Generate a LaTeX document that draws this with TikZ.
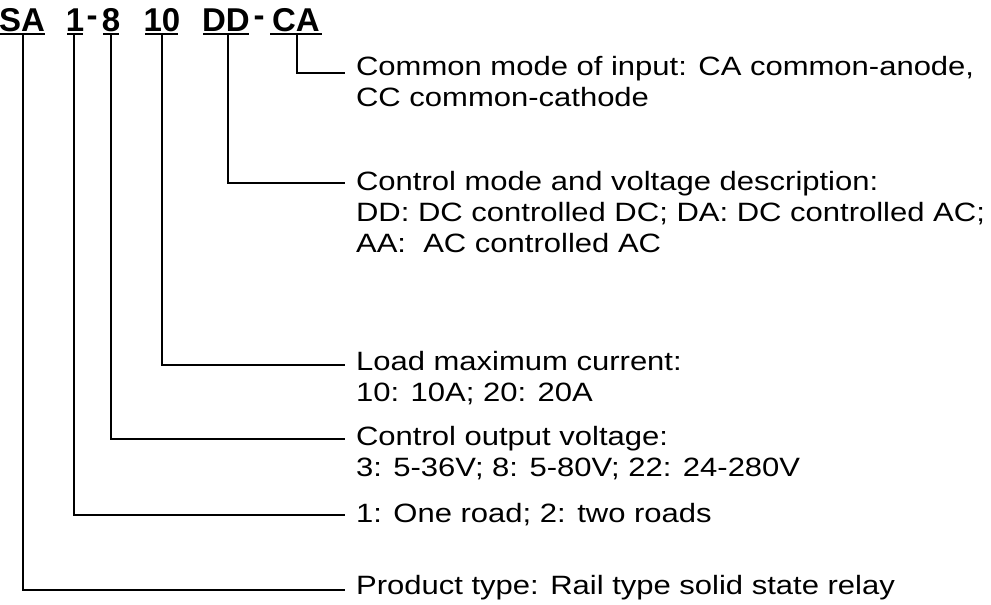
\documentclass[tikz,border=0pt]{standalone}
\usepackage{fontspec}
\setmainfont{Liberation Sans}
\begin{document}
\begin{tikzpicture}[x=1pt,y=-1pt,line width=2.2pt,
  code/.style={font=\fontsize{33}{33}\selectfont\bfseries,anchor=base,inner sep=0},
  desc/.style={font=\fontsize{26.5}{31}\selectfont\addfontfeature{FakeStretch=1.17},anchor=north west,align=left,inner sep=0}]
\useasboundingbox (0,0) rectangle (991,605);
\node[code] (sa) at (22,31) {SA};
\node[code] (one) at (75,31) {1};
\node[code] at (92,26) {-};
\node[code] (eight) at (111,31) {8};
\node[code] (ten) at (162,31) {10};
\node[code] (dd) at (226,31) {DD};
\node[code] at (259,26) {-};
\node[code] (ca) at (296,31) {CA};
\foreach \a/\b in {0/45,67/83,103/119,145/178,203/249,270/322}
  \draw[line width=2.5pt] (\a,34) -- (\b,34);
\coordinate (tsa) at (23,34); \coordinate (t1) at (74,34); \coordinate (t8) at (111,34);
\coordinate (t10) at (162,34); \coordinate (tdd) at (228,34); \coordinate (tca) at (297,34);
\node[desc] (dca) at (355,55) {Common mode of input: CA common-anode,\\CC common-cathode};
\node[desc] (ddd) at (355,170) {Control mode and voltage description:\\DD: DC controlled DC; DA: DC controlled AC;\\AA:\ \ AC controlled AC};
\node[desc] (d10) at (355,350) {Load maximum current:\\10: 10A; 20: 20A};
\node[desc] (d8) at (355,425) {Control output voltage:\\3: 5-36V; 8: 5-80V; 22: 24-280V};
\node[desc] (d1) at (355,502) {1: One road; 2: two roads};
\node[desc] (dsa) at (355,574) {Product type: Rail type solid state relay};
\draw (tca) |- (345,73);
\draw (tdd) |- (345,183);
\draw (t10) |- (345,365);
\draw (t8) |- (345,439);
\draw (t1) |- (345,515);
\draw (tsa) |- (345,590);
\end{tikzpicture}
\end{document}
